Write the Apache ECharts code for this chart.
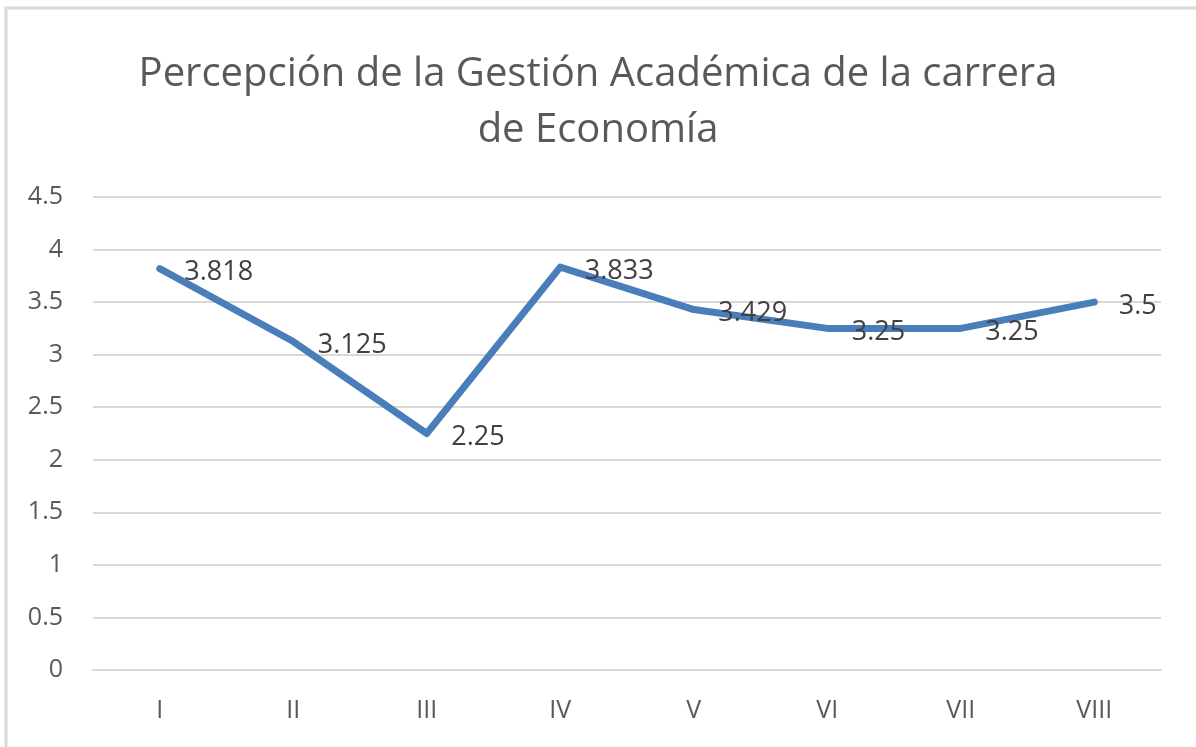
<!DOCTYPE html>
<html>
<head>
<meta charset="utf-8">
<script src="https://cdn.jsdelivr.net/npm/echarts@6/dist/echarts.min.js"></script>
<style>
  html, body { margin: 0; padding: 0; background: #fff; }
  #main { width: 1196px; height: 747px; }
</style>
</head>
<body>
<div id="main"></div>
<script>
var semestres = ['I', 'II', 'III', 'IV', 'V', 'VI', 'VII', 'VIII'];
var promedio = [3.818, 3.125, 2.25, 3.833, 3.429, 3.25, 3.25, 3.5];
var titulo = 'Percepción de la Gestión Académica de la carrera\nde Economía';

var myChart = echarts.init(document.getElementById('main'));
var option;

option = {
  backgroundColor: '#ffffff',
  textStyle: { fontFamily: 'Open Sans' },
  graphic: [{
    type: 'rect',
    shape: { x: 6, y: 8, width: 1200, height: 760 },
    style: { fill: 'none', stroke: '#d9d9d9', lineWidth: 3 },
    silent: true
  }],
  title: {
    text: titulo,
    left: 'center',
    top: 42,
    textStyle: {
      fontFamily: 'Open Sans',
      fontSize: 40,
      fontWeight: 'normal',
      color: '#595959',
      lineHeight: 56
    }
  },
  grid: {
    left: 93,
    right: 35,
    top: 197,
    bottom: 77
  },
  xAxis: {
    type: 'category',
    data: semestres,
    boundaryGap: true,
    axisLine: { show: true, lineStyle: { color: '#d9d9d9', width: 2 } },
    axisTick: { show: false },
    axisLabel: { color: '#595959', fontSize: 25, margin: 28 }
  },
  yAxis: {
    type: 'value',
    min: 0,
    max: 4.5,
    interval: 0.5,
    axisLine: { show: false },
    axisTick: { show: false },
    axisLabel: { color: '#595959', fontSize: 25, margin: 30 },
    splitLine: { lineStyle: { color: '#d9d9d9', width: 2 } }
  },
  series: [{
    name: 'Promedio',
    type: 'line',
    data: promedio,
    symbol: 'circle',
    symbolSize: 1,
    showSymbol: true,
    lineStyle: { color: '#4a7ebb', width: 7, cap: 'round', join: 'round' },
    itemStyle: { color: '#4a7ebb' },
    label: {
      show: true,
      position: 'right',
      distance: 24,
      offset: [0, 4],
      color: '#404040',
      fontSize: 27
    }
  }]
};

option && myChart.setOption(option);
</script>
</body>
</html>
